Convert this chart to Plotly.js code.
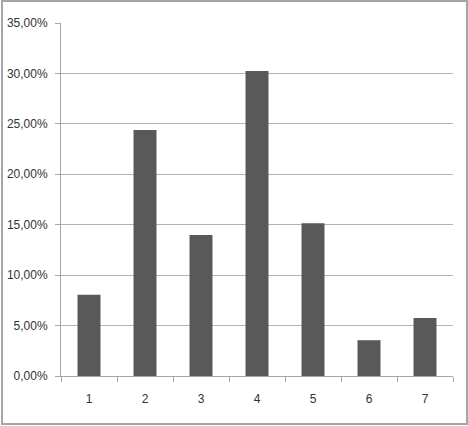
<!DOCTYPE html>
<html>
<head>
<meta charset="utf-8">
<script src="https://cdn.plot.ly/plotly-3.0.1.min.js"></script>
<style>
  body { margin: 0; background: #fff; }
  #graph { width: 468px; height: 426px; }
  #frame {
    position: absolute; left: 1px; top: 0px;
    width: 463px; height: 421px;
    border: 2px solid #a6a6a6;
    pointer-events: none;
  }
</style>
</head>
<body>
<div id="graph"></div>
<div id="frame"></div>
<script>
// categories and values (percent)
var categories = ["1", "2", "3", "4", "5", "6", "7"];
var shares = [8.06, 24.4, 13.97, 30.25, 15.15, 3.55, 5.75];
var yTicks = [0, 5, 10, 15, 20, 25, 30, 35];
var yTickText = ["0,00%", "5,00%", "10,00%", "15,00%", "20,00%", "25,00%", "30,00%", "35,00%"];

var bars = {
  type: "bar",
  x: categories,
  y: shares,
  marker: { color: "#595959" },
  hoverinfo: "none"
};

var layout = {
  width: 468,
  height: 426,
  margin: { l: 61, r: 15, t: 23, b: 50 },
  paper_bgcolor: "#ffffff",
  plot_bgcolor: "#ffffff",
  showlegend: false,
  bargap: 0.59,
  font: { family: "Liberation Sans, sans-serif", size: 12, color: "#333333" },
  xaxis: {
    type: "category",
    showgrid: false,
    showline: true,
    linecolor: "#a6a6a6",
    linewidth: 1,
    ticks: "outside",
    tickson: "boundaries",
    ticklen: 5,
    tickcolor: "#a6a6a6",
    ticklabelstandoff: 12,
    zeroline: false
  },
  yaxis: {
    range: [0, 35],
    tickvals: yTicks,
    ticktext: yTickText,
    showgrid: true,
    gridcolor: "#b3b3b3",
    showline: true,
    linecolor: "#a6a6a6",
    ticks: "outside",
    ticklen: 5,
    tickcolor: "#a6a6a6",
    ticklabelstandoff: 5,
    zeroline: false
  }
};

Plotly.newPlot("graph", [bars], layout, { staticPlot: true });
</script>
</body>
</html>
